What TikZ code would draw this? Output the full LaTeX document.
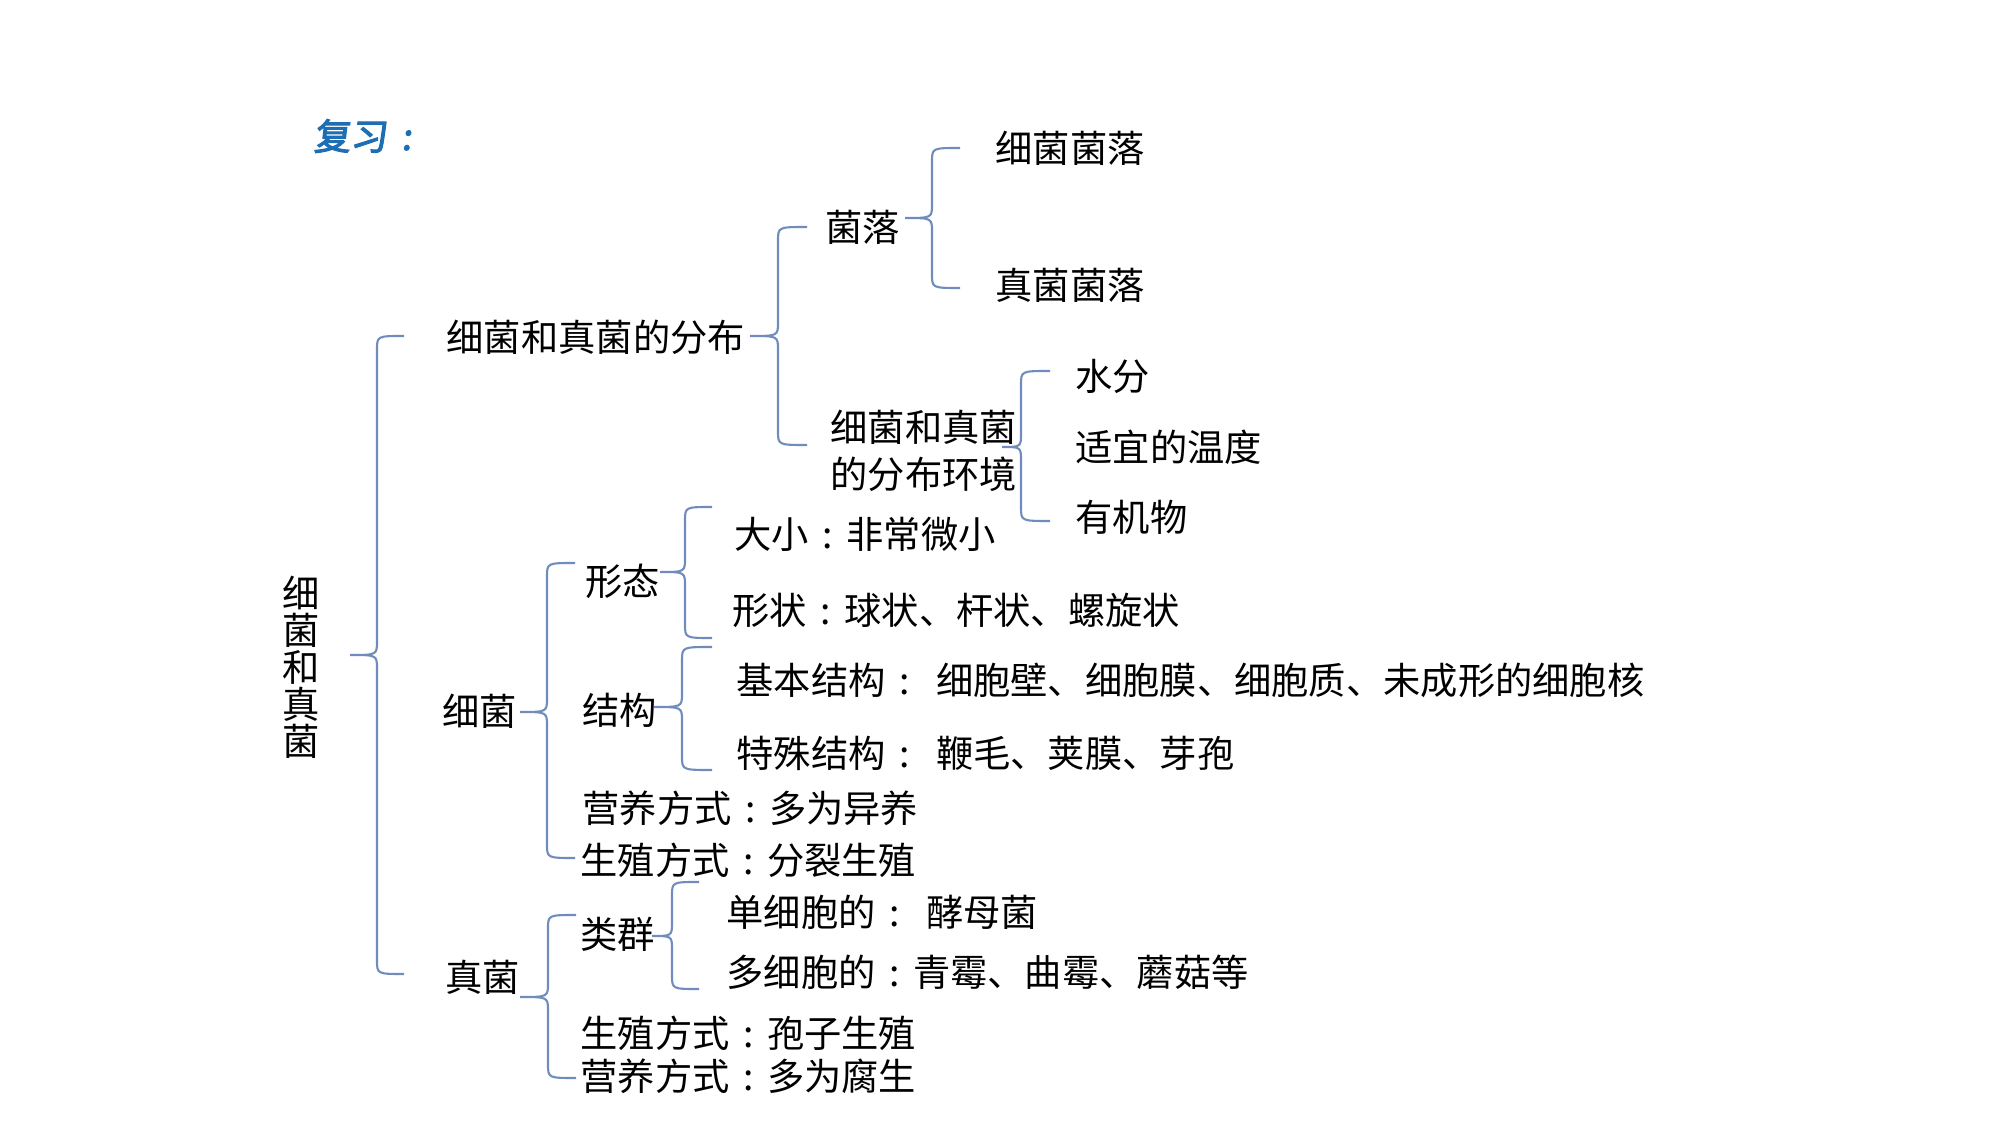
\documentclass[tikz,border=0pt]{standalone}
\usepackage{fontspec}
\newfontfamily\cjk{Noto Sans CJK SC}
\newfontfamily\cjktitle[FakeBold=3,FakeSlant=0.12]{Noto Sans CJK SC}
\definecolor{bracecol}{RGB}{112,140,188}
\definecolor{titleblue}{RGB}{30,110,180}
% brace: spine x, top y, bottom y, tip x, tip y, end x
\newcommand{\kuo}[6]{%
  \draw[brace] (#6,#2) .. controls (#1,#2) .. (#1,#2+14) -- (#1,#5-14)
    .. controls (#1,#5) .. (#4,#5) .. controls (#1,#5) .. (#1,#5+14)
    -- (#1,#3-14) .. controls (#1,#3) .. (#6,#3);}
\newcommand{\mh}{\makebox[1em][c]{:}}
\tikzset{
  brace/.style={draw=bracecol, line width=0.6pt},
  txt/.style={anchor=west, inner sep=0pt, font=\cjk\fontsize{10.6pt}{13pt}\selectfont},
}
\begin{document}
\begin{tikzpicture}[x=0.01cm,y=-0.01cm]
\useasboundingbox (0,0) rectangle (2000,1125);
\node[anchor=west, inner sep=0pt, text=titleblue, font=\cjktitle\fontsize{10.4pt}{12pt}\selectfont] (title) at (313,136) {复习\hspace{0.4em}:};
\node[inner sep=0pt, align=center, font=\cjk\fontsize{10.6pt}{10.5pt}\selectfont] (root) at (301,667) {细\\菌\\和\\真\\菌};
% distribution
\node[txt] (fenbu) at (446,337) {细菌和真菌的分布};
\node[txt] (junluo) at (825,227) {菌落};
\node[txt] (xjjl) at (995,148) {细菌菌落};
\node[txt] (zjjl) at (995,285) {真菌菌落};
\node[txt, align=left] (huanjing) at (830,451) {细菌和真菌\\[0.5pt]的分布环境};
\node[txt] (shuifen) at (1075,376) {水分};
\node[txt] (wendu) at (1075,447) {适宜的温度};
\node[txt] (youjiwu) at (1075,517) {有机物};
% bacteria
\node[txt] (xijun) at (442,711) {细菌};
\node[txt] (xingtai) at (585,581) {形态};
\node[txt] (daxiao) at (734,534) {大小\mh 非常微小};
\node[txt] (xingzhuang) at (732,610) {形状\mh 球状、杆状、螺旋状};
\node[txt] (jiegou) at (582,710) {结构};
\node[txt] (jiben) at (736,680) {基本结构\mh\hspace{0.35em}细胞壁、细胞膜、细胞质、未成形的细胞核};
\node[txt] (teshu) at (736,753) {特殊结构\mh\hspace{0.35em}鞭毛、荚膜、芽孢};
\node[txt] (yingyang) at (582,808) {营养方式\mh 多为异养};
\node[txt] (shengzhi) at (580,860) {生殖方式\mh 分裂生殖};
% fungi
\node[txt] (zhenjun) at (445,977) {真菌};
\node[txt] (leiqun) at (580,934) {类群};
\node[txt] (danxibao) at (726,912) {单细胞的\mh\hspace{0.35em}酵母菌};
\node[txt] (duoxibao) at (726,972) {多细胞的\mh 青霉、曲霉、蘑菇等};
\node[txt] (zjshengzhi) at (580,1033) {生殖方式\mh 孢子生殖};
\node[txt] (zjyingyang) at (580,1076) {营养方式\mh 多为腐生};
% braces
\kuo{377}{336}{974}{350}{655}{404}
\kuo{778}{227}{445}{750}{336}{807}
\kuo{932}{148}{288}{905}{218}{960}
\kuo{1021}{371}{521}{1002}{447}{1050}
\kuo{547}{563}{858}{520}{712}{575}
\kuo{685}{507}{638}{660}{572}{712}
\kuo{682}{647}{770}{654}{707}{712}
\kuo{548}{915}{1078}{520}{997}{576}
\kuo{672}{882}{989}{652}{936}{699}
\end{tikzpicture}
\end{document}
